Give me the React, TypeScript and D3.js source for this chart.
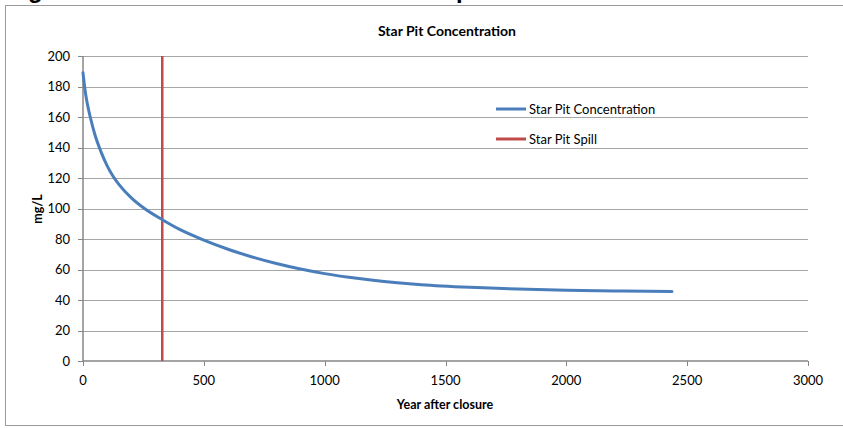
import React from "react";
import * as d3 from "d3";

const years = [0, 5, 10, 20, 30, 50, 75, 100, 125, 150, 200, 250, 330, 400, 500, 600, 700, 800, 900, 1000, 1100, 1200, 1300, 1400, 1600, 1800, 2000, 2200, 2437];
const concentration = [189, 182, 176, 167, 160, 148, 137, 128, 121, 115.5, 107, 100.5, 92.5, 86.3, 79.3, 73.3, 68.2, 63.9, 60.3, 57.3, 54.9, 52.9, 51.3, 50.0, 48.3, 47.2, 46.4, 45.9, 45.5];
const spillYear = 328;
const xTicks = [0, 500, 1000, 1500, 2000, 2500, 3000];
const yTicks = [0, 20, 40, 60, 80, 100, 120, 140, 160, 180, 200];
const seriesNames = ["Star Pit Concentration", "Star Pit Spill"];
const seriesColors = ["#4a7ebb", "#be4b48"];

const FONT = "Lato, 'Open Sans', sans-serif";

export default function App() {
  const W = 843, H = 428;
  const x = d3.scaleLinear().domain([0, 3000]).range([83, 808]);
  const y = d3.scaleLinear().domain([0, 200]).range([361, 56]);
  const line = d3.line<number>().x((_, i) => x(years[i])).y((d) => y(d)).curve(d3.curveMonotoneX);

  return (
    <svg width={W} height={H} style={{ position: "absolute", left: 0, top: 0, background: "#fff" }}>
      <rect x={0} y={0} width={W} height={H} fill="#fff" />
      {/* cut-off page heading fragments (descenders only visible) */}
      <text x={28} y={-2} fontFamily="Arial, sans-serif" fontWeight="bold" fontSize={24} fill="#000">g</text>
      <text x={456} y={-2} fontFamily="Arial, sans-serif" fontWeight="bold" fontSize={24} fill="#000">p</text>
      <rect x={5.5} y={5.5} width={W + 10} height={420} fill="none" stroke="#9a9a9a" strokeWidth={1} />
      <text x={447} y={36} textAnchor="middle" fontFamily={FONT} fontWeight="bold" fontSize={14} fill="#000">Star Pit Concentration</text>
      {yTicks.filter((t) => t > 0).map((t) => (
        <line key={"g" + t} x1={x(0)} x2={x(3000)} y1={Math.round(y(t)) + 0.5} y2={Math.round(y(t)) + 0.5} stroke="#a6a6a6" strokeWidth={1} />
      ))}
      <line x1={x(0)} x2={x(0)} y1={y(200)} y2={y(0)} stroke="#868686" strokeWidth={1.5} />
      <line x1={x(0)} x2={x(3000)} y1={y(0)} y2={y(0)} stroke="#868686" strokeWidth={1.5} />
      {yTicks.map((t) => (
        <g key={"y" + t}>
          <line x1={x(0) - 5} x2={x(0)} y1={Math.round(y(t)) + 0.5} y2={Math.round(y(t)) + 0.5} stroke="#868686" />
          <text x={70} y={y(t) + 4.5} textAnchor="end" fontFamily={FONT} fontSize={13} fill="#000">{t}</text>
        </g>
      ))}
      {xTicks.map((t) => (
        <g key={"x" + t}>
          <line x1={Math.round(x(t)) + 0.5} x2={Math.round(x(t)) + 0.5} y1={y(0)} y2={y(0) + 5} stroke="#868686" />
          <text x={x(t)} y={385} textAnchor="middle" fontFamily={FONT} fontSize={13} fill="#000">{t}</text>
        </g>
      ))}
      <text x={445} y={409} textAnchor="middle" fontFamily={FONT} fontWeight="bold" fontSize={12.5} fill="#000">Year after closure</text>
      <text transform={`translate(42,209) rotate(-90)`} textAnchor="middle" fontFamily={FONT} fontWeight="bold" fontSize={12.5} fill="#000">mg/L</text>
      <line x1={x(spillYear)} x2={x(spillYear)} y1={y(200)} y2={y(0)} stroke={seriesColors[1]} strokeWidth={2.5} />
      <path d={line(concentration) || ""} fill="none" stroke={seriesColors[0]} strokeWidth={3} strokeLinecap="round" />
      {seriesNames.map((n, i) => (
        <g key={n}>
          <line x1={496} x2={526} y1={109 + i * 30} y2={109 + i * 30} stroke={seriesColors[i]} strokeWidth={3} />
          <text x={529} y={113.5 + i * 30} fontFamily={FONT} fontSize={13} fill="#000">{n}</text>
        </g>
      ))}
    </svg>
  );
}
